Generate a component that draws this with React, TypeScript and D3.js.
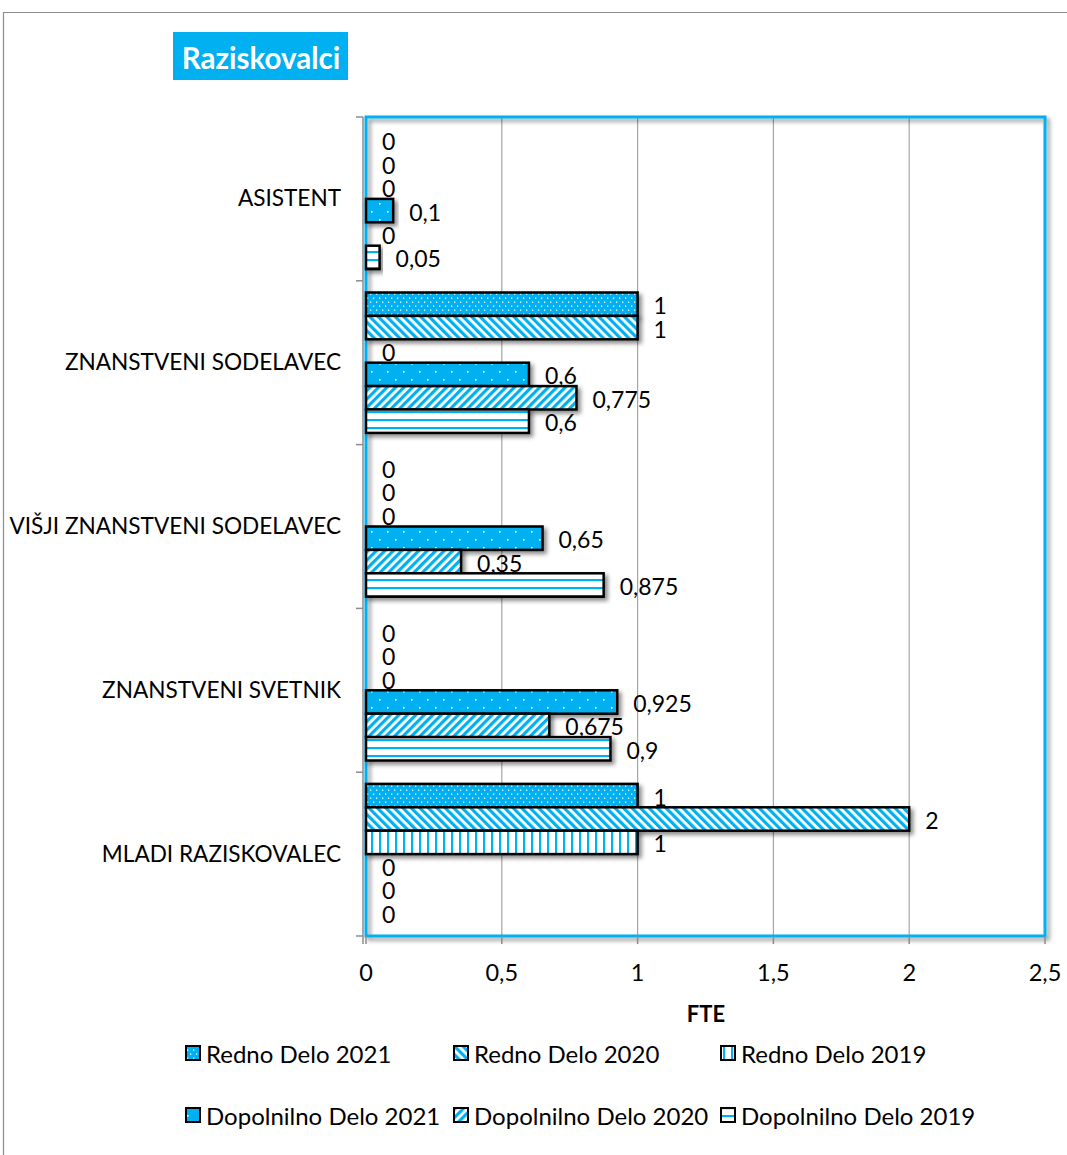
import React from "react";
import * as d3 from "d3";

const categories = [
  "ASISTENT",
  "ZNANSTVENI SODELAVEC",
  "VIŠJI ZNANSTVENI SODELAVEC",
  "ZNANSTVENI SVETNIK",
  "MLADI RAZISKOVALEC",
];
// display order top-to-bottom within each category group
const seriesNames = [
  "Redno Delo 2021",
  "Redno Delo 2020",
  "Redno Delo 2019",
  "Dopolnilno Delo 2021",
  "Dopolnilno Delo 2020",
  "Dopolnilno Delo 2019",
];
const rednoDelo2021 = [0, 1, 0, 0, 1];
const rednoDelo2020 = [0, 1, 0, 0, 2];
const rednoDelo2019 = [0, 0, 0, 0, 1];
const dopolnilnoDelo2021 = [0.1, 0.6, 0.65, 0.925, 0];
const dopolnilnoDelo2020 = [0, 0.775, 0.35, 0.675, 0];
const dopolnilnoDelo2019 = [0.05, 0.6, 0.875, 0.9, 0];
const seriesValues = [
  rednoDelo2021,
  rednoDelo2020,
  rednoDelo2019,
  dopolnilnoDelo2021,
  dopolnilnoDelo2020,
  dopolnilnoDelo2019,
];
const xTicks = [0, 0.5, 1, 1.5, 2, 2.5];
const patternIds = ["pDenseDots", "pDownDiag", "pVert", "pSparseDots", "pUpDiag", "pHoriz"];

const BLUE = "#00B0F0";
const FONT = "Lato, 'Open Sans', sans-serif";

const fmt = (v: number) => String(v).replace(".", ",");

export default function App() {
  const plot = { left: 366, right: 1045, top: 117, bottom: 936 };
  const x = d3.scaleLinear().domain([0, 2.5]).range([plot.left, plot.right]);
  const y = d3.scaleBand<string>().domain(categories).range([plot.top, plot.bottom]);
  const inner = d3
    .scaleBand<string>()
    .domain(seriesNames)
    .range([y.bandwidth() / 14, y.bandwidth() - y.bandwidth() / 14]);

  const legendCols = [186, 454, 721];
  const legendRows = [1053, 1115];

  return (
    <svg
      width={1067}
      height={1155}
      style={{ position: "absolute", left: 0, top: 0, background: "#fff" }}
      fontFamily={FONT}
    >
      <defs>
        <pattern id="pDenseDots" width={6} height={8} patternUnits="userSpaceOnUse">
          <rect width={6} height={8} fill={BLUE} />
          <rect x={1} y={1.5} width={1.3} height={1.3} fill="#fff" />
          <rect x={4} y={5.5} width={1.3} height={1.3} fill="#fff" />
        </pattern>
        <pattern id="pSparseDots" width={16} height={16} patternUnits="userSpaceOnUse">
          <rect width={16} height={16} fill={BLUE} />
          <rect x={3} y={3} width={1.6} height={1.6} fill="#fff" />
          <rect x={11} y={11} width={1.6} height={1.6} fill="#fff" />
        </pattern>
        <pattern
          id="pDownDiag"
          width={6}
          height={6}
          patternUnits="userSpaceOnUse"
          patternTransform="rotate(-45)"
        >
          <rect width={6} height={6} fill="#fff" />
          <rect width={3.2} height={6} fill={BLUE} />
        </pattern>
        <pattern
          id="pUpDiag"
          width={6}
          height={6}
          patternUnits="userSpaceOnUse"
          patternTransform="rotate(45)"
        >
          <rect width={6} height={6} fill="#fff" />
          <rect width={3.2} height={6} fill={BLUE} />
        </pattern>
        <pattern id="pVert" width={8} height={8} patternUnits="userSpaceOnUse">
          <rect width={8} height={8} fill="#fff" />
          <rect x={3} width={2.2} height={8} fill={BLUE} />
        </pattern>
        <pattern id="pHoriz" width={8} height={8} patternUnits="userSpaceOnUse">
          <rect width={8} height={8} fill="#fff" />
          <rect y={3} width={8} height={2.2} fill={BLUE} />
        </pattern>
        <filter id="shadow" x="-10%" y="-30%" width="130%" height="180%">
          <feDropShadow dx={3} dy={3} stdDeviation={2} floodColor="#000" floodOpacity={0.45} />
        </filter>
      </defs>

      {/* outer chart frame */}
      <path d="M3.5,1155 L3.5,12.5 L1067,12.5" fill="none" stroke="#8c8c8c" strokeWidth={1.2} />

      {/* title */}
      <rect x={173} y={32} width={175} height={48} fill={BLUE} />
      <text
        x={261}
        y={57}
        textAnchor="middle"
        dominantBaseline="central"
        fill="#fff"
        fontWeight="bold"
        fontSize={29.5}
      >
        Raziskovalci
      </text>

      {/* gridlines */}
      {xTicks.map((t) => (
        <line
          key={"g" + t}
          x1={x(t)}
          x2={x(t)}
          y1={plot.top}
          y2={plot.bottom}
          stroke="#a6a6a6"
          strokeWidth={1.2}
        />
      ))}

      {/* plot area border */}
      <rect
        x={plot.left}
        y={plot.top}
        width={plot.right - plot.left}
        height={plot.bottom - plot.top}
        fill="none"
        stroke={BLUE}
        strokeWidth={3}
        filter="url(#shadow)"
      />

      {/* y axis line & ticks */}
      <line x1={363} x2={363} y1={plot.top} y2={plot.bottom + 8} stroke="#8c8c8c" strokeWidth={1.5} />
      {categories.map((c) => (
        <line key={"yt" + c} x1={356} x2={363} y1={y(c)!} y2={y(c)!} stroke="#8c8c8c" strokeWidth={1.5} />
      ))}
      <line x1={356} x2={363} y1={plot.bottom} y2={plot.bottom} stroke="#8c8c8c" strokeWidth={1.5} />
      {/* x axis ticks */}
      {xTicks.map((t) => (
        <line key={"xt" + t} x1={x(t)} x2={x(t)} y1={plot.bottom} y2={plot.bottom + 8} stroke="#8c8c8c" strokeWidth={1.5} />
      ))}

      {/* bars */}
      {categories.map((c, ci) =>
        seriesNames.map((s, si) => {
          const v = seriesValues[si][ci];
          const by = y(c)! + inner(s)!;
          const bh = inner.bandwidth();
          return (
            <g key={c + s}>
              {v > 0 && (
                <rect
                  x={x(0)}
                  y={by}
                  width={x(v) - x(0)}
                  height={bh}
                  fill={`url(#${patternIds[si]})`}
                  stroke="#000"
                  strokeWidth={2.5}
                  filter="url(#shadow)"
                />
              )}
              <text
                x={x(v) + 16}
                y={by + bh / 2 + 1}
                dominantBaseline="central"
                fontSize={23}
                fill="#000"
              >
                {fmt(v)}
              </text>
            </g>
          );
        })
      )}

      {/* category labels */}
      {categories.map((c) => (
        <text
          key={"cl" + c}
          x={341}
          y={y(c)! + y.bandwidth() / 2 - 1}
          textAnchor="end"
          dominantBaseline="central"
          fontSize={22.6}
          fill="#000"
        >
          {c}
        </text>
      ))}

      {/* x tick labels */}
      {xTicks.map((t) => (
        <text
          key={"xl" + t}
          x={x(t)}
          y={972}
          textAnchor="middle"
          dominantBaseline="central"
          fontSize={23.5}
          fill="#000"
        >
          {fmt(t)}
        </text>
      ))}
      <text x={706} y={1013} textAnchor="middle" dominantBaseline="central" fontSize={22} fontWeight="bold">
        FTE
      </text>

      {/* legend */}
      {seriesNames.map((s, i) => {
        const lx = legendCols[i % 3];
        const ly = legendRows[Math.floor(i / 3)];
        return (
          <g key={"lg" + s}>
            <rect
              x={lx}
              y={ly - 7}
              width={14}
              height={14}
              fill={`url(#${patternIds[i]})`}
              stroke="#000"
              strokeWidth={2}
            />
            <text x={lx + 20} y={ly} dominantBaseline="central" fontSize={24}>
              {s}
            </text>
          </g>
        );
      })}
    </svg>
  );
}
